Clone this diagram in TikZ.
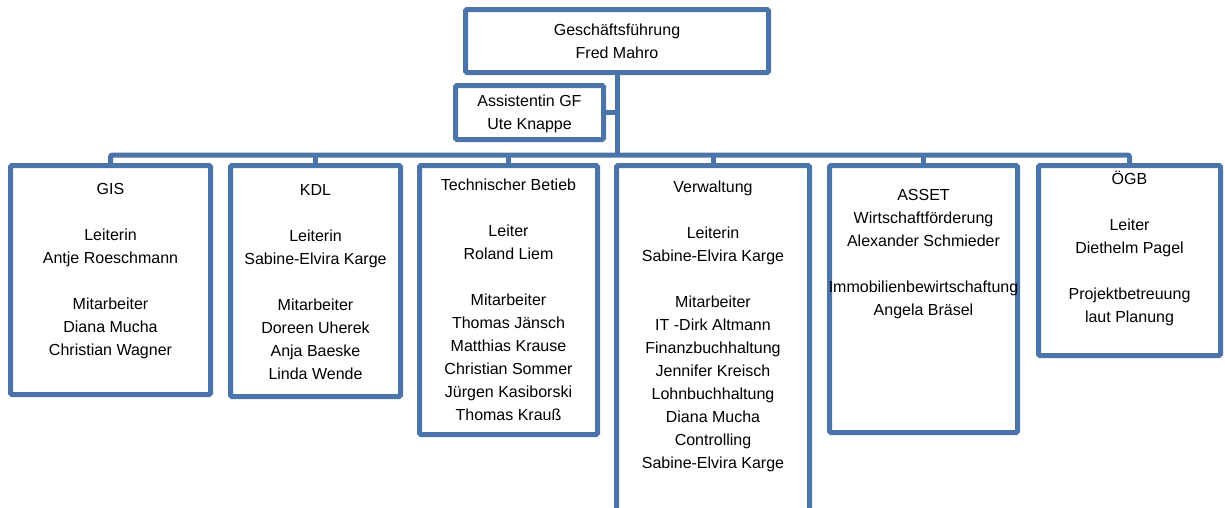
\documentclass[tikz,border=0pt]{standalone}
\usepackage{fontspec}
\setmainfont{Liberation Sans}
\usepackage{xcolor}
\usepackage{tikz}
\usetikzlibrary{positioning}
\definecolor{orgblue}{RGB}{74,116,170}

\begin{document}
\begin{tikzpicture}[
      x=1pt, y=-1pt,
      unit/.style={draw=orgblue, line width=5pt, rounded corners=1.5pt,
        inner sep=0pt, outer sep=0pt},
      wire/.style={draw=orgblue, line width=5pt, rounded corners=2pt},
      txt/.style={align=center, inner sep=0pt,
        font=\fontsize{16}{23}\selectfont}
    ]
    \clip (0,0) rectangle (1225,507);

    \coordinate (bus) at (617,155);

    \node[unit, minimum width=303, minimum height=63] (gf) at (617,41) {};
    \node[unit, minimum width=148, minimum height=54] (asst) at (529.5,112.5) {};
    \node[unit, minimum width=200, minimum height=229] (gis) at (110.5,280) {};
    \node[unit, minimum width=170, minimum height=231] (kdl) at (315.5,281) {};
    \node[unit, minimum width=178, minimum height=269] (tech) at (508.5,300) {};
    \node[unit, minimum width=193, minimum height=370] (verw) at (713,350.5) {};
    \node[unit, minimum width=188, minimum height=267] (asset) at (923.5,299) {};
    \node[unit, minimum width=182, minimum height=190] (ogb) at (1129.5,260.5) {};

    \draw[wire] (gf.south) -- (bus);
    \draw[wire] (asst.east) -- (asst.east -| bus);
    \draw[wire] (gis.north) -- (gis.north |- bus) -- (ogb.north |- bus)
      -- (ogb.north);
    \foreach \d in {kdl,tech,verw,asset}
      \draw[wire] (\d.north) -- (\d.north |- bus);

    \node[txt, below=9.5pt of gf.north] (gftext)
      {\strut Geschäftsführung\\Fred Mahro};
    \node[txt, below=4.5pt of asst.north] (assttext)
      {\strut Assistentin GF\\Ute Knappe};
    \node[txt, below=12.5pt of gis.north] (gistext)
      {\strut GIS\\~\\Leiterin\\Antje Roeschmann\\~\\Mitarbeiter\\
       Diana Mucha\\Christian Wagner};
    \node[txt, below=13.5pt of kdl.north] (kdltext)
      {\strut KDL\\~\\Leiterin\\Sabine-Elvira Karge\\~\\Mitarbeiter\\
       Doreen Uherek\\Anja Baeske\\Linda Wende};
    \node[txt, below=8.5pt of tech.north] (techtext)
      {\strut Technischer Betieb\\~\\Leiter\\Roland Liem\\~\\Mitarbeiter\\
       Thomas Jänsch\\Matthias Krause\\Christian Sommer\\
       Jürgen Kasiborski\\Thomas Krauß};
    \node[txt, below=10.5pt of verw.north] (verwtext)
      {\strut Verwaltung\\~\\Leiterin\\Sabine-Elvira Karge\\~\\Mitarbeiter\\
       IT -Dirk Altmann\\Finanzbuchhaltung\\Jennifer Kreisch\\
       Lohnbuchhaltung\\Diana Mucha\\Controlling\\Sabine-Elvira Karge};
    \node[txt, below=18.5pt of asset.north] (assettext)
      {\strut ASSET\\Wirtschaftförderung\\Alexander Schmieder\\~\\
       Immobilienbewirtschaftung\\Angela Bräsel};
    \node[txt, below=2.5pt of ogb.north] (ogbtext)
      {\strut ÖGB\\~\\Leiter\\Diethelm Pagel\\~\\Projektbetreuung\\
       laut Planung};
  \end{tikzpicture}
\end{document}
